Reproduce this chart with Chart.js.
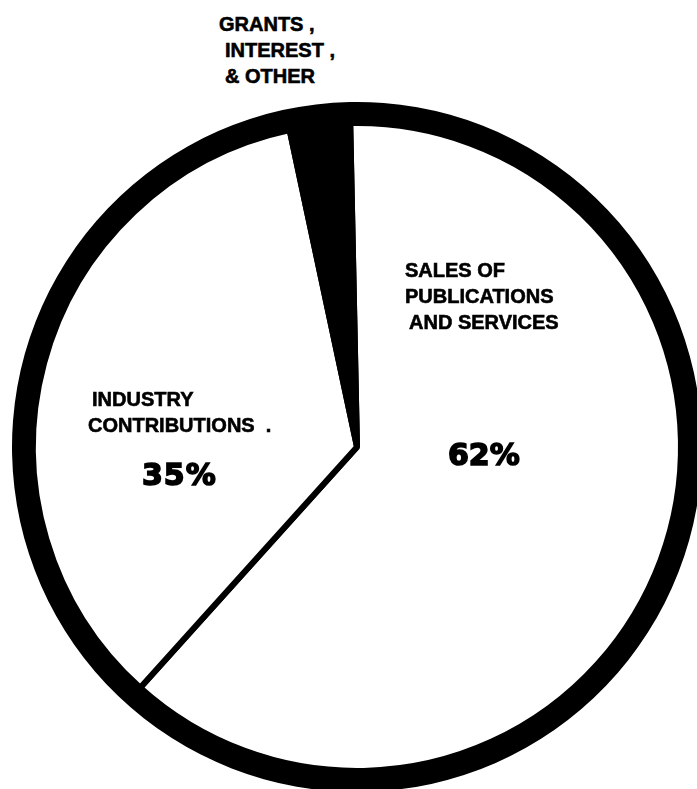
<!DOCTYPE html>
<html>
<head>
<meta charset="utf-8">
<script src="https://cdn.jsdelivr.net/npm/chart.js@4"></script>
<style>
  html, body { margin: 0; padding: 0; background: #fff; overflow: hidden; }
  body { width: 697px; height: 789px; position: relative; }
  #wrap { position: absolute; left: 12px; top: 102px; width: 690px; height: 690px; }
  .lbl { position: absolute; font-family: "Liberation Sans", Arial, sans-serif; font-weight: bold;
         font-size: 20px; line-height: 26px; color: #000; white-space: nowrap;
         -webkit-text-stroke: 0.6px #000; }
  .pct { position: absolute; font-family: "DejaVu Sans", sans-serif; font-weight: bold; color: #000;
         white-space: nowrap; -webkit-text-stroke: 1.6px #000; }
</style>
</head>
<body>
<div id="wrap"><canvas id="fundingPie"></canvas></div>

<div class="lbl" style="left:219px; top:11px;">
  <div>GRANTS ,</div>
  <div style="margin-left:6px;">INTEREST ,</div>
  <div style="margin-left:6px;">&amp; OTHER</div>
</div>
<div class="lbl" style="left:405px; top:257px;">
  <div>SALES OF</div>
  <div>PUBLICATIONS</div>
  <div style="margin-left:4px;">AND SERVICES</div>
</div>
<div class="lbl" style="left:88px; top:386px;">
  <div style="margin-left:4px;">INDUSTRY</div>
  <div>CONTRIBUTIONS&nbsp;&nbsp;.</div>
</div>
<div class="pct" style="left:448px; top:440px; font-size:30px; line-height:30px;">62%</div>
<div class="pct" style="left:142px; top:460px; font-size:30px; line-height:29px; letter-spacing:1px;">35%</div>

<script>
const fundingCtx = document.getElementById("fundingPie");

const sourceLabels = [
  "Sales of Publications and Services",
  "Industry Contributions",
  "Grants, Interest, & Other",
];
const sourceShares = [62, 35, 3];
const sourceColors = ["#ffffff", "#ffffff", "#000000"];

// thick black rim round the pie
const rimShare = [100];

new Chart(fundingCtx, {
  type: "pie",
  data: {
    labels: sourceLabels,
    datasets: [
      {
        label: "rim",
        data: rimShare,
        backgroundColor: "#000000",
        borderWidth: 0,
        weight: 21,
      },
      {
        label: "Sources of income",
        data: sourceShares,
        backgroundColor: sourceColors,
        borderColor: "#000000",
        borderWidth: 6,
        weight: 324,
      },
    ],
  },
  options: {
    responsive: true,
    maintainAspectRatio: false,
    animation: false,
    rotation: -1.2,
    layout: { padding: 0 },
    plugins: {
      legend: { display: false },
      tooltip: { enabled: false },
    },
  },
});
</script>
</body>
</html>
